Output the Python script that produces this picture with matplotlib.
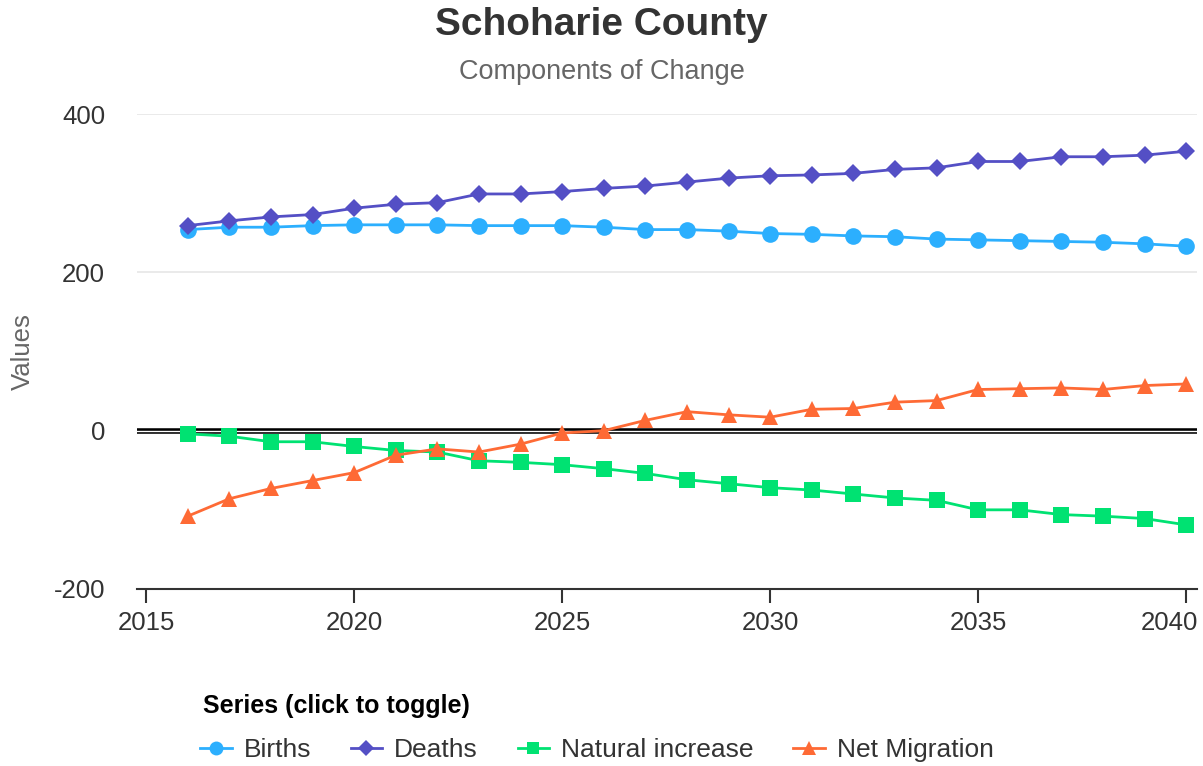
import matplotlib
matplotlib.use("Agg")
import matplotlib.pyplot as plt
from matplotlib.lines import Line2D
from matplotlib.transforms import ScaledTranslation

plt.rcParams['font.family'] = ['Liberation Sans', 'DejaVu Sans']
plt.rcParams['axes.unicode_minus'] = False

# data
years = list(range(2016, 2041))
births = [254, 257, 257, 259, 260, 260, 260, 259, 259, 259, 257, 254,
          254, 252, 249, 248, 246, 245, 242, 241, 240, 239, 238, 236, 233]
deaths = [259, 265, 270, 273, 281, 286, 288, 299, 299, 302, 306, 309,
          314, 319, 322, 323, 325, 330, 332, 340, 340, 346, 346, 348, 353]
natural_increase = [-4, -7, -14, -14, -20, -25, -27, -38, -40, -43, -48, -54,
                    -62, -67, -72, -75, -80, -85, -88, -100, -100, -106, -108, -111, -119]
net_migration = [-108, -86, -73, -63, -53, -31, -23, -27, -17, -3, 0, 13,
                 24, 20, 17, 27, 28, 36, 38, 52, 53, 54, 52, 57, 59]

series = [
    ("Births", births, '#2caffe', 'o', 12, 10),
    ("Deaths", deaths, '#544fc5', 'D', 9, 8),
    ("Natural increase", natural_increase, '#00e272', 's', 11, 9),
    ("Net Migration", net_migration, '#fe6a35', '^', 12, 10),
]

fig = plt.figure(figsize=(12.03, 7.66), dpi=100)
ax = fig.add_axes([137 / 1203, 1 - 589 / 766, (1197 - 137) / 1203, (589 - 114) / 766])

ax.set_xlim(2014.78, 2040.26)
ax.set_ylim(-200, 400)
ax.set_yticks([-200, 0, 200, 400])
ax.set_xticks([2015, 2020, 2025, 2030, 2035, 2040])

# grid lines
for v in [200, 400]:
    ax.axhline(v, color='#e6e6e6', lw=1.2, zorder=0)

# zero line: black with white stripe
ax.axhline(0, color='black', lw=4, zorder=1)
ax.axhline(0, color='white', lw=1, zorder=1.1)

handles = []
for name, vals, col, mk, ms, lms in series:
    ax.plot(years, vals, color=col, lw=2, marker=mk, markersize=ms,
            markeredgewidth=0, zorder=3)
    handles.append(Line2D([], [], color=col, lw=2, marker=mk,
                          markersize=lms, markeredgewidth=0, label=name))

for s in ['top', 'right', 'left']:
    ax.spines[s].set_visible(False)
ax.spines['bottom'].set_color('#333333')
ax.spines['bottom'].set_linewidth(1.5)

ax.tick_params(axis='y', length=0, labelsize=18.5, labelcolor='#333333', pad=23)
ax.tick_params(axis='x', length=10, width=1.5, color='#333333',
               labelsize=18.5, labelcolor='#333333', pad=6)

# keep the last x label inside the figure, like the original
last = ax.xaxis.get_major_ticks()[-1].label1
last.set_horizontalalignment('right')
last.set_transform(last.get_transform() + ScaledTranslation(0.12, 0, fig.dpi_scale_trans))

ax.set_ylabel('Values', fontsize=18.5, color='#666666')
ax.yaxis.set_label_coords(-(137 - 35) / (1197 - 137), 0.5)

fig.text(0.5, 1 - 25 / 766, 'Schoharie County', ha='center', va='center',
         fontsize=28, fontweight='bold', color='#333333')
fig.text(0.5, 1 - 72 / 766, 'Components of Change', ha='center', va='center',
         fontsize=19.5, color='#666666')

fig.text(203 / 1203, 1 - 706 / 766, 'Series (click to toggle)', ha='left',
         va='center', fontsize=18, fontweight='bold', color='black')

leg = fig.legend(handles=handles, loc='center left', ncol=4,
                 bbox_to_anchor=(200 / 1203, 1 - 750 / 766),
                 frameon=False, fontsize=19, handlelength=1.2,
                 handletextpad=0.45, columnspacing=1.5, borderaxespad=0,
                 borderpad=0)
for t in leg.get_texts():
    t.set_color('#333333')

fig.savefig('out.png', dpi=100, facecolor='white')
